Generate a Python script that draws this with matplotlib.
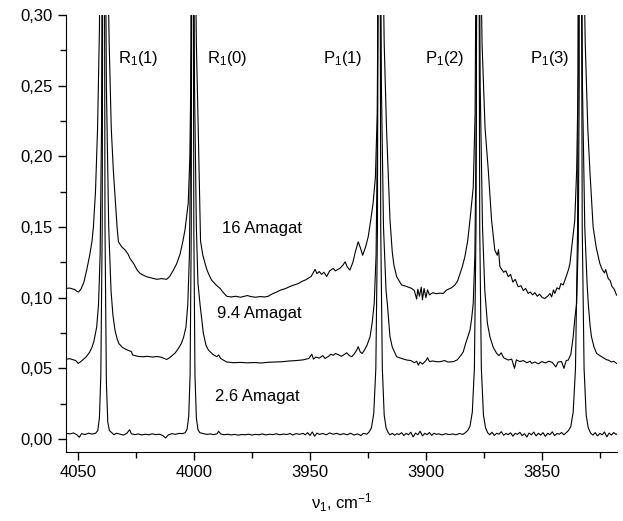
import matplotlib
matplotlib.use('Agg')
import matplotlib.pyplot as plt
from matplotlib.ticker import MultipleLocator, FuncFormatter

plt.rcParams['font.family'] = ['Liberation Sans', 'DejaVu Sans']
plt.rcParams['mathtext.fontset'] = 'custom'
plt.rcParams['mathtext.rm'] = 'Liberation Sans'
plt.rcParams['mathtext.default'] = 'regular'

# 2.6 Amagat spectrum (wavenumber, absorbance)
nu_26 = [4055.0, 4053.5, 4052.0, 4050.5, 4049.5, 4048.5, 4047.0, 4045.5, 4044.0, 4042.5,
         4041.5, 4040.8, 4040.2, 4039.6, 4039.2, 4039.0, 4038.8, 4038.4, 4037.8, 4037.2,
         4036.5, 4035.5, 4034.5, 4033.5, 4032.0, 4030.5, 4029.0, 4027.8, 4027.0, 4025.5,
         4024.0, 4022.5, 4021.0, 4019.5, 4018.0, 4016.5, 4015.0, 4013.5, 4012.3, 4011.0,
         4009.5, 4008.0, 4006.5, 4005.0, 4003.8, 4003.0, 4002.3, 4001.7, 4001.2, 4000.9,
         4000.7, 4000.5, 4000.1, 3999.6, 3999.0, 3998.3, 3997.5, 3996.0, 3994.5, 3993.0,
         3991.5, 3990.0, 3989.4, 3988.5, 3987.0, 3985.5, 3984.0, 3982.5, 3981.0, 3979.5,
         3978.0, 3976.5, 3975.0, 3973.5, 3972.0, 3970.5, 3969.0, 3967.5, 3966.0, 3964.5,
         3963.0, 3961.5, 3960.0, 3958.5, 3957.5, 3956.0, 3954.5, 3953.0, 3952.0, 3951.0,
         3950.0, 3949.0, 3948.0, 3947.0, 3946.0, 3944.5, 3943.0, 3941.5, 3940.0, 3938.5,
         3937.0, 3935.5, 3934.0, 3932.5, 3931.0, 3929.5, 3928.0, 3927.0, 3925.5, 3924.5,
         3923.5, 3922.5, 3921.6, 3920.9, 3920.5, 3920.2, 3919.9, 3919.5, 3918.8, 3918.0,
         3917.2, 3916.3, 3915.5, 3914.5, 3913.5, 3912.5, 3911.5, 3910.5, 3909.5, 3908.5,
         3907.5, 3906.5, 3905.5, 3904.5, 3903.5, 3902.5, 3901.5, 3900.5, 3899.5, 3898.5,
         3897.5, 3896.5, 3895.5, 3894.5, 3893.0, 3891.5, 3890.0, 3888.5, 3887.0, 3885.5,
         3884.0, 3883.0, 3882.0, 3881.0, 3880.0, 3879.1, 3878.4, 3877.9, 3877.6, 3877.3,
         3876.8, 3876.1, 3875.2, 3874.3, 3873.4, 3872.5, 3871.5, 3870.5, 3869.5, 3868.5,
         3867.5, 3866.5, 3865.5, 3864.5, 3863.5, 3862.5, 3861.5, 3860.5, 3859.5, 3858.5,
         3857.5, 3856.5, 3855.5, 3854.5, 3853.5, 3852.5, 3851.5, 3850.5, 3849.5, 3848.5,
         3847.5, 3846.5, 3845.5, 3844.5, 3843.5, 3842.5, 3841.5, 3840.5, 3839.5, 3838.5,
         3837.5, 3836.5, 3835.5, 3834.6, 3834.0, 3833.6, 3833.2, 3832.6, 3831.8, 3830.9,
         3830.0, 3829.0, 3828.0, 3827.0, 3826.0, 3825.0, 3824.0, 3823.0, 3822.0, 3821.0,
         3820.0, 3819.0, 3818.0, 3817.5]
abs_26 = [0.0040, 0.0036, 0.0043, 0.0030, 0.0012, 0.0038, 0.0032, 0.0041, 0.0035, 0.0040,
          0.0060, 0.0150, 0.0450, 0.1500, 0.5000, 0.9000, 0.5000, 0.1500, 0.0400, 0.0120,
          0.0060, 0.0045, 0.0030, 0.0041, 0.0035, 0.0028, 0.0040, 0.0066, 0.0037, 0.0031,
          0.0036, 0.0029, 0.0034, 0.0030, 0.0037, 0.0031, 0.0034, 0.0025, 0.0008, 0.0030,
          0.0038, 0.0033, 0.0040, 0.0038, 0.0045, 0.0070, 0.0160, 0.0450, 0.1500, 0.5000,
          0.9000, 0.5000, 0.1500, 0.0450, 0.0150, 0.0065, 0.0045, 0.0038, 0.0033, 0.0036,
          0.0031, 0.0038, 0.0055, 0.0036, 0.0030, 0.0034, 0.0029, 0.0033, 0.0027, 0.0032,
          0.0030, 0.0034, 0.0028, 0.0033, 0.0030, 0.0036, 0.0029, 0.0034, 0.0031, 0.0037,
          0.0030, 0.0035, 0.0032, 0.0039, 0.0028, 0.0038, 0.0033, 0.0040, 0.0030, 0.0045,
          0.0025, 0.0050, 0.0020, 0.0042, 0.0033, 0.0039, 0.0030, 0.0043, 0.0034, 0.0040,
          0.0031, 0.0038, 0.0030, 0.0041, 0.0028, 0.0036, 0.0025, 0.0040, 0.0034, 0.0050,
          0.0080, 0.0180, 0.0500, 0.1500, 0.5000, 0.9000, 0.5000, 0.1500, 0.0500, 0.0170,
          0.0080, 0.0045, 0.0030, 0.0040, 0.0027, 0.0038, 0.0032, 0.0045, 0.0025, 0.0040,
          0.0030, 0.0048, 0.0015, 0.0042, 0.0030, 0.0055, 0.0022, 0.0040, 0.0031, 0.0046,
          0.0026, 0.0041, 0.0033, 0.0037, 0.0029, 0.0038, 0.0031, 0.0036, 0.0030, 0.0039,
          0.0033, 0.0045, 0.0060, 0.0090, 0.0190, 0.0500, 0.1500, 0.5000, 0.9000, 0.5000,
          0.1500, 0.0500, 0.0170, 0.0080, 0.0045, 0.0030, 0.0048, 0.0025, 0.0041, 0.0034,
          0.0052, 0.0027, 0.0039, 0.0031, 0.0044, 0.0020, 0.0040, 0.0033, 0.0047, 0.0024,
          0.0038, 0.0014, 0.0042, 0.0030, 0.0049, 0.0022, 0.0041, 0.0028, 0.0045, 0.0019,
          0.0040, 0.0031, 0.0051, 0.0024, 0.0039, 0.0034, 0.0046, 0.0030, 0.0045, 0.0060,
          0.0090, 0.0190, 0.0500, 0.1500, 0.5000, 0.9000, 0.5000, 0.1500, 0.0500, 0.0170,
          0.0080, 0.0042, 0.0028, 0.0045, 0.0022, 0.0040, 0.0030, 0.0050, 0.0015, 0.0042,
          0.0028, 0.0046, 0.0032, 0.0038]

# 9.4 Amagat spectrum
nu_94 = [4055.0, 4053.5, 4052.0, 4051.0, 4050.0, 4049.0, 4048.0, 4046.5, 4045.0, 4044.0,
         4043.2, 4042.0, 4041.2, 4040.5, 4039.9, 4039.4, 4039.0, 4038.5, 4037.8, 4036.8,
         4035.8, 4035.0, 4034.1, 4033.2, 4032.4, 4031.0, 4029.5, 4028.0, 4027.0, 4026.5,
         4025.5, 4024.0, 4022.0, 4020.0, 4018.0, 4016.0, 4014.0, 4012.5, 4011.8, 4010.8,
         4009.5, 4008.2, 4007.0, 4005.5, 4004.5, 4003.5, 4002.7, 4002.0, 4001.4, 4001.0,
         4000.7, 4000.3, 3999.8, 3999.0, 3998.3, 3997.4, 3996.0, 3994.8, 3993.8, 3992.0,
         3990.2, 3989.4, 3988.5, 3986.0, 3983.0, 3980.0, 3977.0, 3974.0, 3971.0, 3968.0,
         3965.0, 3962.0, 3959.0, 3956.0, 3953.0, 3950.5, 3949.2, 3948.5, 3947.5, 3946.0,
         3944.5, 3943.5, 3942.0, 3941.0, 3940.0, 3939.0, 3937.5, 3936.5, 3935.5, 3934.2,
         3933.0, 3932.0, 3931.0, 3929.8, 3929.2, 3928.3, 3927.5, 3926.5, 3925.5, 3924.1,
         3923.2, 3922.3, 3921.5, 3920.9, 3920.5, 3920.2, 3919.8, 3919.2, 3918.3, 3917.2,
         3916.6, 3915.5, 3914.5, 3912.6, 3910.5, 3908.3, 3906.5, 3905.0, 3904.0, 3903.3,
         3902.5, 3901.5, 3900.0, 3899.3, 3898.5, 3897.0, 3895.5, 3893.9, 3892.0, 3890.5,
         3888.2, 3886.5, 3885.0, 3883.9, 3882.8, 3881.0, 3880.3, 3879.6, 3878.9, 3878.3,
         3877.9, 3877.6, 3877.2, 3876.6, 3875.6, 3874.6, 3873.5, 3872.4, 3871.0, 3869.5,
         3868.5, 3867.5, 3866.5, 3864.5, 3863.0, 3861.8, 3861.0, 3859.5, 3858.0, 3856.5,
         3855.0, 3854.4, 3853.0, 3851.5, 3850.0, 3848.5, 3847.0, 3845.5, 3844.0, 3843.0,
         3841.5, 3840.5, 3839.5, 3838.6, 3837.5, 3836.5, 3835.8, 3835.0, 3834.3, 3833.9,
         3833.6, 3833.1, 3832.5, 3831.5, 3830.5, 3830.0, 3829.2, 3828.6, 3827.5, 3826.4,
         3825.0, 3823.5, 3822.0, 3821.4, 3820.0, 3819.0, 3817.8]
abs_94 = [0.0565, 0.0568, 0.0560, 0.0555, 0.0535, 0.0545, 0.0560, 0.0582, 0.0615, 0.0650,
          0.0690, 0.0790, 0.0950, 0.1300, 0.2200, 0.4500, 0.9000, 0.4500, 0.2500, 0.1500,
          0.1050, 0.0880, 0.0770, 0.0710, 0.0675, 0.0650, 0.0635, 0.0625, 0.0618, 0.0595,
          0.0590, 0.0584, 0.0582, 0.0585, 0.0580, 0.0584, 0.0578, 0.0568, 0.0563, 0.0572,
          0.0590, 0.0608, 0.0635, 0.0675, 0.0720, 0.0790, 0.0950, 0.1300, 0.2200, 0.4500,
          0.9000, 0.4500, 0.2500, 0.1500, 0.1100, 0.0950, 0.0750, 0.0660, 0.0630, 0.0600,
          0.0582, 0.0595, 0.0570, 0.0545, 0.0540, 0.0542, 0.0539, 0.0541, 0.0538, 0.0543,
          0.0545, 0.0547, 0.0552, 0.0555, 0.0560, 0.0570, 0.0600, 0.0565, 0.0580, 0.0572,
          0.0590, 0.0570, 0.0585, 0.0600, 0.0592, 0.0605, 0.0595, 0.0585, 0.0595, 0.0610,
          0.0590, 0.0582, 0.0600, 0.0630, 0.0653, 0.0615, 0.0605, 0.0630, 0.0660, 0.0723,
          0.0820, 0.0960, 0.1300, 0.2200, 0.4500, 0.9000, 0.4500, 0.2500, 0.1500, 0.1050,
          0.0950, 0.0723, 0.0650, 0.0582, 0.0570, 0.0559, 0.0555, 0.0540, 0.0550, 0.0523,
          0.0545, 0.0530, 0.0555, 0.0575, 0.0548, 0.0552, 0.0547, 0.0547, 0.0555, 0.0545,
          0.0547, 0.0560, 0.0590, 0.0617, 0.0680, 0.0770, 0.0850, 0.0960, 0.1300, 0.2200,
          0.4500, 0.9000, 0.4500, 0.2500, 0.1500, 0.1050, 0.0820, 0.0723, 0.0650, 0.0606,
          0.0590, 0.0610, 0.0575, 0.0559, 0.0565, 0.0500, 0.0560, 0.0548, 0.0555, 0.0540,
          0.0550, 0.0535, 0.0545, 0.0532, 0.0548, 0.0538, 0.0550, 0.0542, 0.0510, 0.0545,
          0.0548, 0.0500, 0.0555, 0.0559, 0.0600, 0.0723, 0.0850, 0.0960, 0.1400, 0.2500,
          0.9000, 0.4500, 0.2500, 0.1500, 0.1100, 0.0960, 0.0800, 0.0723, 0.0650, 0.0606,
          0.0590, 0.0575, 0.0560, 0.0559, 0.0545, 0.0550, 0.0535]

# 16 Amagat spectrum
nu_16 = [4055.0, 4053.5, 4052.5, 4051.5, 4050.5, 4049.8, 4048.8, 4047.5, 4046.3, 4045.0,
         4044.0, 4043.4, 4042.5, 4041.6, 4040.8, 4040.2, 4039.0, 4037.8, 4036.6, 4035.7,
         4034.8, 4034.0, 4033.2, 4032.6, 4031.2, 4029.7, 4028.5, 4027.6, 4026.0, 4024.5,
         4023.3, 4021.8, 4020.4, 4018.5, 4016.1, 4014.0, 4011.8, 4010.5, 4008.9, 4007.5,
         4006.0, 4004.8, 4003.9, 4002.5, 4001.8, 4001.2, 4000.7, 3999.8, 3999.0, 3998.2,
         3997.6, 3997.2, 3996.2, 3995.2, 3994.3, 3993.2, 3992.4, 3990.5, 3988.8, 3987.3,
         3985.9, 3984.0, 3982.0, 3980.0, 3978.8, 3977.0, 3975.5, 3973.5, 3971.5, 3969.5,
         3968.0, 3966.5, 3964.4, 3962.5, 3960.5, 3958.5, 3956.5, 3955.0, 3953.5, 3952.0,
         3950.5, 3949.5, 3948.5, 3947.8, 3947.0, 3946.0, 3945.0, 3944.0, 3942.8, 3941.5,
         3940.0, 3939.0, 3938.0, 3937.1, 3935.8, 3934.8, 3934.0, 3932.8, 3931.5, 3930.5,
         3929.2, 3928.2, 3927.3, 3926.0, 3924.9, 3923.8, 3922.8, 3921.8, 3921.0, 3920.4,
         3919.8, 3919.0, 3918.0, 3917.0, 3916.3, 3915.5, 3914.5, 3913.8, 3912.6, 3911.2,
         3910.5, 3908.5, 3906.2, 3905.0, 3904.0, 3903.5, 3902.8, 3902.0, 3901.5, 3900.8,
         3900.0, 3899.3, 3898.5, 3897.0, 3895.5, 3894.0, 3892.5, 3891.1, 3889.0, 3887.5,
         3886.3, 3885.3, 3884.3, 3883.2, 3882.0, 3881.0, 3879.6, 3878.8, 3878.2, 3877.6,
         3876.8, 3875.8, 3874.5, 3873.1, 3871.7, 3870.3, 3869.2, 3868.7, 3868.1, 3866.5,
         3865.5, 3864.5, 3863.5, 3862.5, 3861.5, 3860.2, 3859.0, 3858.0, 3857.0, 3855.9,
         3855.0, 3854.0, 3853.0, 3852.0, 3851.0, 3849.8, 3848.7, 3847.5, 3846.5, 3845.8,
         3845.0, 3844.4, 3843.5, 3842.5, 3841.8, 3840.8, 3839.5, 3838.5, 3837.9, 3836.8,
         3835.8, 3835.0, 3834.3, 3833.6, 3832.5, 3831.3, 3830.2, 3829.3, 3827.9, 3826.5,
         3825.0, 3824.0, 3823.0, 3822.5, 3821.4, 3820.5, 3819.8, 3818.8, 3817.8]
abs_16 = [0.1066, 0.1068, 0.1062, 0.1058, 0.1045, 0.1040, 0.1060, 0.1110, 0.1195, 0.1300,
          0.1400, 0.1500, 0.1750, 0.2200, 0.2900, 0.4000, 0.9000, 0.4000, 0.2800, 0.2200,
          0.1900, 0.1700, 0.1500, 0.1395, 0.1360, 0.1337, 0.1310, 0.1278, 0.1240, 0.1195,
          0.1172, 0.1158, 0.1148, 0.1140, 0.1130, 0.1135, 0.1130, 0.1150, 0.1195, 0.1240,
          0.1310, 0.1400, 0.1480, 0.1670, 0.2000, 0.2800, 0.9000, 0.4000, 0.2800, 0.2200,
          0.1700, 0.1400, 0.1300, 0.1240, 0.1190, 0.1150, 0.1124, 0.1090, 0.1066, 0.1035,
          0.1010, 0.1005, 0.1010, 0.1003, 0.1008, 0.1015, 0.1008, 0.1003, 0.1008, 0.1005,
          0.1010, 0.1025, 0.1040, 0.1055, 0.1065, 0.1080, 0.1092, 0.1100, 0.1115, 0.1125,
          0.1140, 0.1150, 0.1180, 0.1200, 0.1170, 0.1185, 0.1165, 0.1180, 0.1150, 0.1190,
          0.1207, 0.1190, 0.1200, 0.1207, 0.1230, 0.1254, 0.1220, 0.1195, 0.1250, 0.1320,
          0.1395, 0.1350, 0.1300, 0.1360, 0.1430, 0.1550, 0.1667, 0.1850, 0.2300, 0.4000,
          0.9000, 0.4000, 0.2800, 0.2200, 0.1900, 0.1550, 0.1320, 0.1230, 0.1148, 0.1110,
          0.1090, 0.1080, 0.1066, 0.1050, 0.0990, 0.1060, 0.1010, 0.1075, 0.0985, 0.1065,
          0.1000, 0.1055, 0.1020, 0.1035, 0.1028, 0.1032, 0.1030, 0.1054, 0.1070, 0.1090,
          0.1120, 0.1170, 0.1220, 0.1290, 0.1400, 0.1550, 0.1780, 0.2300, 0.4000, 0.9000,
          0.4000, 0.2800, 0.2200, 0.1900, 0.1550, 0.1337, 0.1300, 0.1340, 0.1220, 0.1180,
          0.1190, 0.1148, 0.1165, 0.1110, 0.1130, 0.1077, 0.1085, 0.1050, 0.1065, 0.1030,
          0.1040, 0.1020, 0.1035, 0.1010, 0.1025, 0.1000, 0.0995, 0.1010, 0.1030, 0.1005,
          0.1055, 0.1030, 0.1070, 0.1060, 0.1100, 0.1090, 0.1150, 0.1200, 0.1242, 0.1400,
          0.1550, 0.1900, 0.2600, 0.9000, 0.4000, 0.2800, 0.2200, 0.1900, 0.1500, 0.1350,
          0.1242, 0.1200, 0.1175, 0.1200, 0.1136, 0.1120, 0.1080, 0.1060, 0.1018]

line_labels = ['R$_1$(1)', 'R$_1$(0)', 'P$_1$(1)', 'P$_1$(2)', 'P$_1$(3)']
line_label_x = [4032.8, 3994.4, 3944.4, 3900.4, 3855.2]
density_labels = ['16 Amagat', '9.4 Amagat', '2.6 Amagat']
density_label_x = [3987.9, 3990.2, 3991.0]
density_label_y = [0.149, 0.089, 0.030]

fig = plt.figure(figsize=(6.23, 5.21), dpi=100)
ax = fig.add_axes([0.106, 0.1324, 0.884, 0.8388])

for nu, a in [(nu_26, abs_26), (nu_94, abs_94), (nu_16, abs_16)]:
    ax.plot(nu, a, color='black', lw=0.8)

for lab, x in zip(line_labels, line_label_x):
    ax.text(x, 0.269, lab, fontsize=12, ha='left', va='center')
for lab, x, y in zip(density_labels, density_label_x, density_label_y):
    ax.text(x, y, lab, fontsize=12, ha='left', va='center')

ax.set_xlim(4055.2, 3817.7)
ax.set_ylim(-0.0092, 0.30)
ax.spines['top'].set_visible(False)
ax.spines['right'].set_visible(False)
ax.xaxis.set_major_locator(MultipleLocator(50))
ax.xaxis.set_minor_locator(MultipleLocator(25))
ax.yaxis.set_major_locator(MultipleLocator(0.05))
ax.yaxis.set_minor_locator(MultipleLocator(0.025))
ax.yaxis.set_major_formatter(FuncFormatter(lambda v, p: ('%.2f' % v).replace('.', ',')))
ax.tick_params(which='major', length=6, width=1, labelsize=12, direction='out')
ax.tick_params(which='minor', length=4, width=1, direction='out')
ax.set_xlabel('ν$_1$, cm$^{-1}$', fontsize=12, labelpad=8)

fig.savefig('out.png', dpi=100)
